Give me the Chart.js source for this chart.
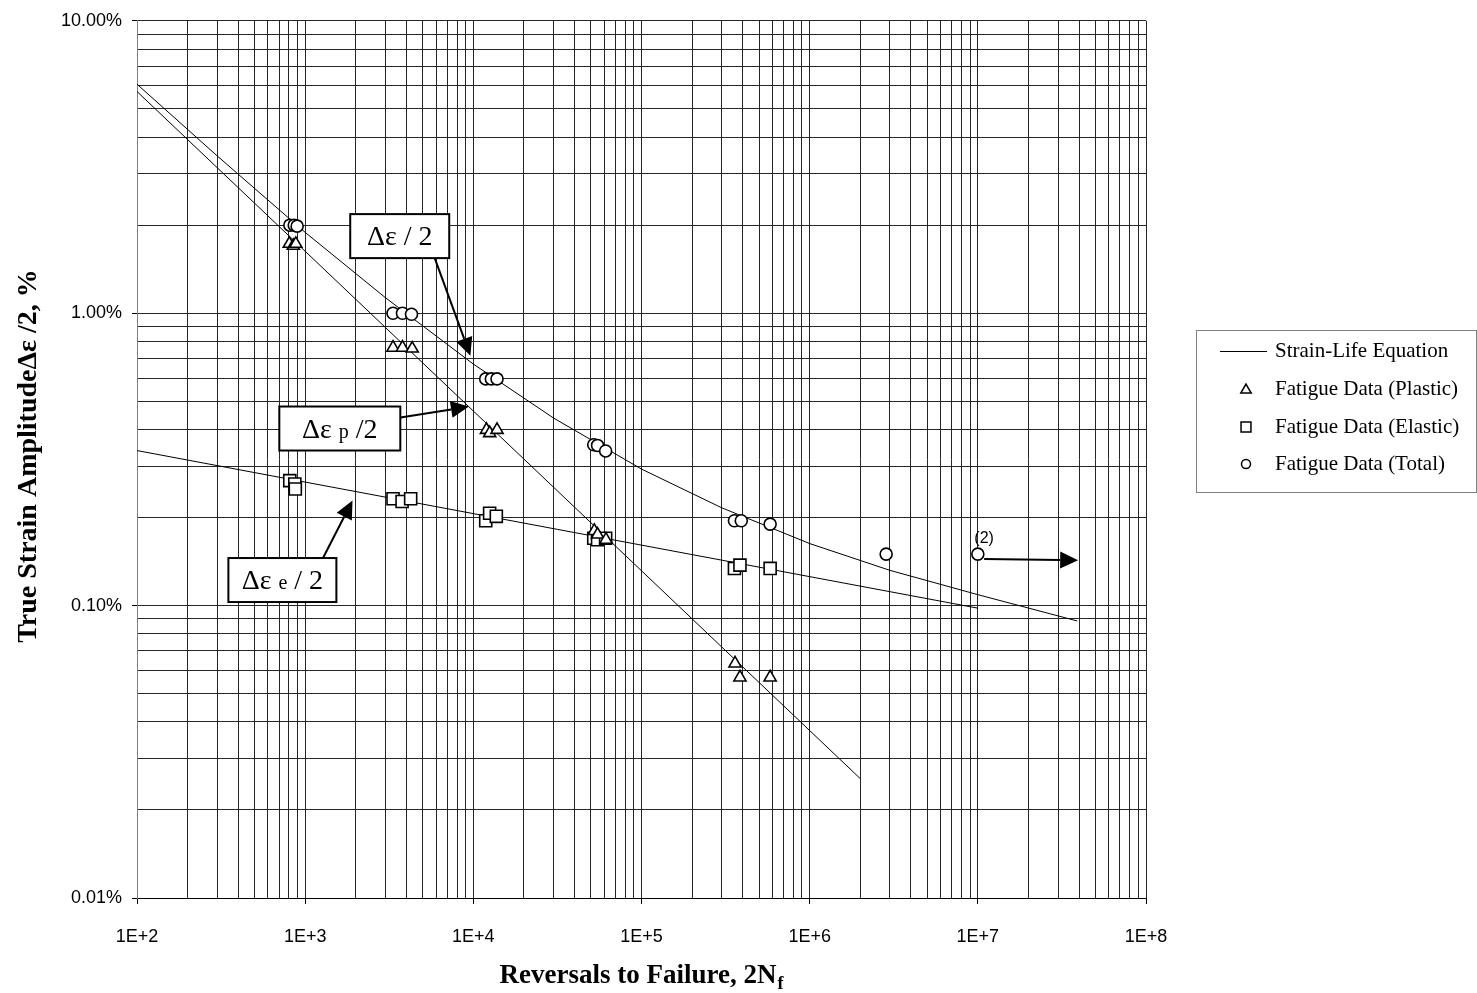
<!DOCTYPE html>
<html>
<head>
<meta charset="utf-8">
<title>Strain-Life Curve</title>
<script src="https://cdn.jsdelivr.net/npm/chart.js@4.4.1/dist/chart.umd.min.js"></script>
<style>
    html, body { margin: 0; padding: 0; background: #fff; }
    #wrap { width: 1477px; height: 993px; position: relative; }
</style>
</head>
<body>
<div id="wrap"><canvas id="strainLifeChart"></canvas></div>
<script>
// Strain-life equation lines (x = reversals 2Nf, y = amplitude in %)
const plasticLineN = [100, 2000000];
const plasticLinePct = [5.73, 0.0256];
const elasticLineN = [100, 10000000];
const elasticLinePct = [0.339, 0.098];
const totalLineN = [100, 300, 1000, 3000, 10000, 30000, 100000, 300000, 1000000, 3000000, 10000000, 39000000];
const totalLinePct = [6.07, 3.45, 1.89, 1.13, 0.67, 0.438, 0.293, 0.216, 0.163, 0.132, 0.109, 0.0886];

// Fatigue test data
const plasticN = [805, 850, 880, 3330, 3790, 4330, 11970, 12510, 13830, 52400, 54800, 61500, 360000, 385000, 582000];
const plasticPct = [1.727, 1.70, 1.727, 0.762, 0.762, 0.757, 0.399, 0.389, 0.399, 0.180, 0.175, 0.168, 0.0634, 0.0568, 0.0568];
const elasticN = [810, 868, 874, 3330, 3770, 4240, 11850, 12500, 13700, 52000, 54800, 61200, 357000, 385000, 582000];
const elasticPct = [0.2675, 0.2604, 0.2504, 0.232, 0.227, 0.232, 0.195, 0.207, 0.202, 0.170, 0.168, 0.170, 0.134, 0.1375, 0.134];
const totalN = [811, 861, 896, 3330, 3790, 4290, 11850, 12800, 13830, 52000, 54800, 61200, 357000, 392000, 582000, 2850000, 10000000];
const totalPct = [2.0, 2.0, 1.985, 1.0, 1.0, 0.992, 0.596, 0.596, 0.596, 0.355, 0.353, 0.338, 0.195, 0.195, 0.190, 0.150, 0.150];

// Axis ticks
const xMajorValues = [1e2, 1e3, 1e4, 1e5, 1e6, 1e7, 1e8];
const xTickLabels = ['1E+2', '1E+3', '1E+4', '1E+5', '1E+6', '1E+7', '1E+8'];
const yMajorValues = [0.01, 0.1, 1, 10];
const yTickLabels = ['0.01%', '0.10%', '1.00%', '10.00%'];

// Callouts (anchored in data space)
const calloutBoxes = [
    { runs: [['\u0394\u03b5 / 2', false]], atN: 3650, atPct: 1.835, w: 99, h: 44 },
    { runs: [['\u0394\u03b5 ', false], ['p', true], [' /2', false]], atN: 1607, atPct: 0.4033, w: 121, h: 44 },
    { runs: [['\u0394\u03b5 ', false], ['e', true], [' / 2', false]], atN: 732, atPct: 0.1223, w: 108, h: 44 }
];
const calloutArrows = [
    { fromN: 5893, fromPct: 1.544, toN: 9605, toPct: 0.715 },
    { fromN: 3687, fromPct: 0.4396, toN: 9419, toPct: 0.4794 },
    { fromN: 1279, fromPct: 0.1457, toN: 1912, toPct: 0.2287 },
    { fromN: 1.09e7, fromPct: 0.1442, toN: 3.95e7, toPct: 0.1430 }
];
const runoutNote = { text: '(2)', atN: 1.09e7, atPct: 0.170 };

function toPoints(xs, ys) {
    return xs.map((x, i) => ({ x: x, y: ys[i] }));
}

function withMinors(majors) {
    const out = [];
    for (let i = 0; i < majors.length - 1; i++) {
        for (let k = 1; k <= 9; k++) out.push(majors[i] * k);
    }
    out.push(majors[majors.length - 1]);
    return out;
}

function isMajor(v) {
    const l = Math.log10(v);
    return Math.abs(l - Math.round(l)) < 1e-9;
}

function majorLabel(v, majors, labels) {
    for (let i = 0; i < majors.length; i++) {
        if (Math.abs(Math.log10(v) - Math.log10(majors[i])) < 1e-9) return labels[i];
    }
    return '';
}

function drawMarker(ctx, style, x, y, r) {
    ctx.beginPath();
    if (style === 'triangle') {
        ctx.moveTo(x, y - r);
        ctx.lineTo(x + 0.866 * r, y + 0.5 * r);
        ctx.lineTo(x - 0.866 * r, y + 0.5 * r);
        ctx.closePath();
    } else if (style === 'rect') {
        const s = r * Math.SQRT1_2;
        ctx.rect(x - s, y - s, 2 * s, 2 * s);
    } else {
        ctx.arc(x, y, r, 0, Math.PI * 2);
    }
    ctx.fill();
    ctx.stroke();
}

function drawArrow(ctx, x1, y1, x2, y2, headLen, headHalf) {
    const a = Math.atan2(y2 - y1, x2 - x1);
    const bx = x2 - Math.cos(a) * headLen;
    const by = y2 - Math.sin(a) * headLen;
    ctx.beginPath();
    ctx.moveTo(x1, y1);
    ctx.lineTo(bx, by);
    ctx.stroke();
    ctx.beginPath();
    ctx.moveTo(x2, y2);
    ctx.lineTo(bx + Math.sin(a) * headHalf, by - Math.cos(a) * headHalf);
    ctx.lineTo(bx - Math.sin(a) * headHalf, by + Math.cos(a) * headHalf);
    ctx.closePath();
    ctx.fill();
}

// Titles, callouts and the legend box are drawn by hand like the original sheet
const decorPlugin = {
    id: 'decor',
    afterDatasetsDraw(chart) {
        const ctx = chart.ctx;
        const xs = chart.scales.x, ys = chart.scales.y;
        ctx.save();
        ctx.fillStyle = '#000';
        ctx.strokeStyle = '#000';

        // arrows
        ctx.lineWidth = 2;
        calloutArrows.forEach(a => {
            drawArrow(ctx, xs.getPixelForValue(a.fromN), ys.getPixelForValue(a.fromPct),
                xs.getPixelForValue(a.toN), ys.getPixelForValue(a.toPct), 18, 8.5);
        });

        // boxes
        calloutBoxes.forEach(b => {
            const cx = xs.getPixelForValue(b.atN);
            const cy = ys.getPixelForValue(b.atPct);
            ctx.fillStyle = '#fff';
            ctx.fillRect(cx - b.w / 2, cy - b.h / 2, b.w, b.h);
            ctx.lineWidth = 2;
            ctx.strokeRect(cx - b.w / 2, cy - b.h / 2, b.w, b.h);
            ctx.fillStyle = '#000';
            ctx.textBaseline = 'alphabetic';
            ctx.textAlign = 'left';
            let total = 0;
            b.runs.forEach(r => {
                ctx.font = (r[1] ? '20px' : '28px') + ' "Liberation Serif", serif';
                total += ctx.measureText(r[0]).width;
            });
            let x = cx - total / 2;
            b.runs.forEach(r => {
                ctx.font = (r[1] ? '20px' : '28px') + ' "Liberation Serif", serif';
                ctx.fillText(r[0], x, cy + 9);
                x += ctx.measureText(r[0]).width;
            });
        });

        // run-out note
        ctx.font = '16px "Liberation Sans", Arial, sans-serif';
        ctx.textAlign = 'center';
        ctx.textBaseline = 'middle';
        ctx.fillText(runoutNote.text, xs.getPixelForValue(runoutNote.atN), ys.getPixelForValue(runoutNote.atPct));
        ctx.restore();
    },
    afterDraw(chart) {
        const ctx = chart.ctx;
        ctx.save();
        ctx.fillStyle = '#000';

        // x title with subscript
        const main = 'Reversals to Failure, 2N';
        ctx.font = 'bold 27px "Liberation Serif", serif';
        const w1 = ctx.measureText(main).width;
        ctx.font = 'bold 18px "Liberation Serif", serif';
        const w2 = ctx.measureText('f').width;
        let x0 = 641 - (w1 + w2) / 2;
        ctx.textAlign = 'left';
        ctx.textBaseline = 'alphabetic';
        ctx.font = 'bold 27px "Liberation Serif", serif';
        ctx.fillText(main, x0, 983);
        ctx.font = 'bold 18px "Liberation Serif", serif';
        ctx.fillText('f', x0 + w1 + 1, 989);

        // y title
        ctx.save();
        ctx.translate(36, 456);
        ctx.rotate(-Math.PI / 2);
        ctx.textAlign = 'center';
        ctx.font = 'bold 28px "Liberation Serif", serif';
        ctx.fillText('True Strain Amplitude\u0394\u03b5 /2, %', 0, 0);
        ctx.restore();

        // legend
        const lx = 1196, ly = 330, lw = 280, lh = 162;
        ctx.strokeStyle = '#808080';
        ctx.lineWidth = 1;
        ctx.strokeRect(lx + 0.5, ly + 0.5, lw, lh);
        const rows = chart.data.datasets.filter(d => d.label);
        const rowY = [351, 389, 427, 464];
        ctx.font = '21px "Liberation Serif", serif';
        ctx.textAlign = 'left';
        ctx.textBaseline = 'middle';
        rows.forEach((d, i) => {
            const y = rowY[i];
            ctx.strokeStyle = '#000';
            if (d.showLine) {
                ctx.lineWidth = 1;
                ctx.beginPath();
                ctx.moveTo(1220, y + 0.5);
                ctx.lineTo(1267, y + 0.5);
                ctx.stroke();
            } else {
                ctx.fillStyle = '#fff';
                ctx.lineWidth = 1.5;
                const r = d.pointStyle === 'rect' ? 7 : (d.pointStyle === 'triangle' ? 6 : 4.5);
                drawMarker(ctx, d.pointStyle, 1246, y + (d.pointStyle === 'triangle' ? 1 : 0), r);
            }
            ctx.fillStyle = '#000';
            ctx.fillText(d.label, 1275, y);
        });
        ctx.restore();
    }
};

const lineStyle = { showLine: true, pointRadius: 0, borderColor: '#000', borderWidth: 1, tension: 0, order: 2 };
const markerStyle = { showLine: false, borderColor: '#000', backgroundColor: '#fff', pointBorderWidth: 1.6, order: 1 };

const ctx = document.getElementById('strainLifeChart').getContext('2d');
new Chart(ctx, {
    type: 'scatter',
    data: {
        datasets: [
            Object.assign({ label: 'Strain-Life Equation', data: toPoints(totalLineN, totalLinePct) }, lineStyle),
            Object.assign({ label: '', data: toPoints(plasticLineN, plasticLinePct) }, lineStyle),
            Object.assign({ label: '', data: toPoints(elasticLineN, elasticLinePct) }, lineStyle),
            Object.assign({ label: 'Fatigue Data (Plastic)', data: toPoints(plasticN, plasticPct), pointStyle: 'triangle', pointRadius: 7 }, markerStyle),
            Object.assign({ label: 'Fatigue Data (Elastic)', data: toPoints(elasticN, elasticPct), pointStyle: 'rect', pointRadius: 8.5 }, markerStyle),
            Object.assign({ label: 'Fatigue Data (Total)', data: toPoints(totalN, totalPct), pointStyle: 'circle', pointRadius: 6 }, markerStyle)
        ]
    },
    options: {
        responsive: true,
        maintainAspectRatio: false,
        animation: false,
        events: [],
        layout: { padding: { left: 0, right: 331, top: 18, bottom: 0 } },
        plugins: {
            legend: { display: false },
            tooltip: { enabled: false }
        },
        scales: {
            x: {
                type: 'logarithmic',
                min: 1e2,
                max: 1e8,
                afterBuildTicks: (scale) => { scale.ticks = withMinors(xMajorValues).map(v => ({ value: v })); },
                afterFit: (scale) => { scale.height = 95; },
                grid: {
                    color: '#262626',
                    lineWidth: 1,
                    tickLength: 6,
                    tickColor: (c) => (c.tick && isMajor(c.tick.value)) ? '#000' : 'rgba(0,0,0,0)'
                },
                border: { color: '#000', width: 1 },
                ticks: {
                    autoSkip: false,
                    maxRotation: 0,
                    padding: 22,
                    color: '#000',
                    font: { family: '"Liberation Sans", Arial, sans-serif', size: 18 },
                    callback: (v) => majorLabel(v, xMajorValues, xTickLabels)
                }
            },
            y: {
                type: 'logarithmic',
                min: 0.01,
                max: 10,
                afterBuildTicks: (scale) => { scale.ticks = withMinors(yMajorValues).map(v => ({ value: v })); },
                afterFit: (scale) => { scale.width = 137; },
                grid: {
                    color: '#262626',
                    lineWidth: 1,
                    tickLength: 5,
                    tickColor: (c) => (c.tick && isMajor(c.tick.value)) ? '#000' : 'rgba(0,0,0,0)'
                },
                border: { color: '#808080', width: 1 },
                ticks: {
                    autoSkip: false,
                    padding: 10,
                    color: '#000',
                    font: { family: '"Liberation Sans", Arial, sans-serif', size: 18 },
                    callback: (v) => majorLabel(v, yMajorValues, yTickLabels)
                }
            }
        }
    },
    plugins: [decorPlugin]
});
</script>
</body>
</html>
